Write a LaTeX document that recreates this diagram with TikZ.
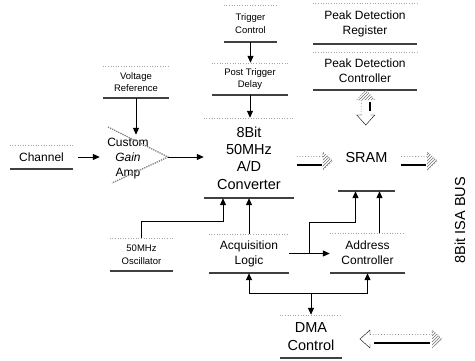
\documentclass[tikz,border=0pt]{standalone}
\usepackage{fontspec}
\setmainfont{Liberation Sans}
\usetikzlibrary{arrows.meta,calc,patterns}
\newcommand\fbig{\fontsize{14.5}{17.3}\selectfont}
\newcommand\fmid{\fontsize{12}{15}\selectfont}
\newcommand\fsmall{\fontsize{9.5}{12.5}\selectfont}
\tikzset{
  topl/.style={draw=black!35,dotted,line width=0.6pt},
  botl/.style={draw=black!75,line width=1.7pt},
  blk/.style={align=center,inner sep=0pt,
    append after command={\pgfextra{\let\thisblk\tikzlastnode}
      (\thisblk.north west) edge[topl] (\thisblk.north east)
      (\thisblk.south west) edge[botl] (\thisblk.south east)}},
  blkb/.style={align=center,inner sep=0pt,
    append after command={\pgfextra{\let\thisblk\tikzlastnode}
      (\thisblk.south west) edge[botl] (\thisblk.south east)}},
  arr/.style={line width=1pt,-{Triangle[length=7pt,width=6pt]}},
  amptri/.style={black!50,densely dotted,line width=1.3pt},
  pics/fatarr/.style={code={
    \fill[pattern=north east lines,pattern color=black!55] (-10,-9) -- (0,0) -- (-10,9) -- cycle;
    \draw[black!45,dotted,thick] (-#1,-4.5) -- (-10,-4.5) -- (-10,-9) -- (0,0) -- (-10,9);
    \draw[black,line width=2.2pt] (-#1,4) -- (-11,4);
  }},
  pics/dblarr/.style={code={
    \pgfmathsetmacro\halfl{#1/2}
    \draw[black,thin] (-\halfl+10,-4.5) -- (-\halfl+10,-9) -- (-\halfl,0) -- (-\halfl+10,9) -- (-\halfl+10,4.5);
    \fill[pattern=north east lines,pattern color=black!55] (\halfl-10,-9) -- (\halfl,0) -- (\halfl-10,9) -- cycle;
    \draw[black!45,dotted,thick] (-\halfl+10,-4.5) -- (\halfl-10,-4.5) -- (\halfl-10,-9) -- (\halfl,0) -- (\halfl-10,9);
    \draw[black,line width=2.2pt] (-\halfl+14,4) -- (\halfl-12,4);
  }},
}
\begin{document}
\begin{tikzpicture}[x=1pt,y=-1pt]
  \path[use as bounding box,fill=white] (0,0) rectangle (475,360);
  % blocks
  \node[blk,font=\fsmall,minimum width=53,minimum height=37] (trig) at (250.5,23.5) {Trigger\\Control};
  \node[blk,font=\fsmall,minimum width=76,minimum height=32] (post) at (250,79) {Post Trigger\\Delay};
  \node[blk,font=\fbig,minimum width=90,minimum height=80] (conv) at (249,158) {8Bit\\50MHz\\A/D\\Converter};
  \node[blk,font=\fsmall,minimum width=66,minimum height=32] (vref) at (136,82) {Voltage\\Reference};
  \node[blk,font=\fmid,minimum width=63,minimum height=24] (chan) at (41.5,157) {Channel};
  \node[align=center,inner sep=0pt,font=\fmid,minimum width=56,minimum height=48] (amp) at (128,159) {Custom\\\textit{Gain}\\Amp};
  \node[blk,font=\fsmall,minimum width=63,minimum height=33] (osc) at (141.5,254.5) {50MHz\\Oscillator};
  \node[blk,font=\fmid,minimum width=80,minimum height=39] (acq) at (249,253.5) {Acquisition\\Logic};
  \node[blk,font=\fmid,minimum width=75,minimum height=40] (addr) at (367.5,253) {Address\\Controller};
  \node[blkb,font=\fbig,minimum width=57,minimum height=66] (sram) at (366.5,158) {SRAM};
  \node[blk,font=\fmid,minimum width=104,minimum height=41] (pdr) at (365,23.5) {Peak Detection\\Register};
  \node[blk,font=\fmid,minimum width=104,minimum height=38] (pdc) at (365,71) {Peak Detection\\Controller};
  \node[blk,font=\fbig,minimum width=62,minimum height=43] (dma) at (311,336.5) {DMA\\Control};
  \node[font=\fbig,rotate=90,inner sep=0pt] (isa) at (460,220) {8Bit ISA BUS};
  % amplifier
  \coordinate (apex) at (168,157);
  \draw[amptri] (108,127) -- (apex) -- (112,183);
  % connectors
  \draw[arr] (trig.south) -- (trig.south |- post.north);
  \draw[arr] (post.south) -- (post.south |- conv.north);
  \draw[arr] (vref.south) -- (vref.south |- amp.north);
  \draw[arr,shorten <=5pt] (chan.east) -- (chan.east -| amp.west);
  \draw[arr] (apex) -- (apex -| conv.west);
  \draw[arr] (osc.north) -- ++(0,-16) -| ([xshift=-26pt]conv.south);
  \draw[arr] (acq.north) -- (conv.south);
  \draw[arr] (acq.east) -- (acq.east -| addr.west);
  \coordinate (br) at ($(acq.east)!0.5!(acq.east -| addr.west)$);
  \draw[arr] (br) -- ++(0,-31) -| ([xshift=-11pt]sram.south);
  \draw[arr] ([xshift=12pt]addr.north) -- ([xshift=12pt]addr.north |- sram.south);
  \coordinate (jn) at (dma.north |- 0,293);
  \draw[arr] (jn) -| (acq.south);
  \draw[arr] (jn) -| (addr.south);
  \draw[arr] (jn) -- (dma.north);
  % bus arrows
  \pic at ([xshift=-5pt,yshift=-3pt]sram.west) {fatarr=36};
  \pic at ([xshift=42pt,yshift=-3pt]sram.east) {fatarr=36};
  \pic[rotate=90] at ($(pdc.south)!0.5!(sram.north)$) {dblarr=35};
  \pic at (401,339) {dblarr=82};
\end{tikzpicture}
\end{document}
